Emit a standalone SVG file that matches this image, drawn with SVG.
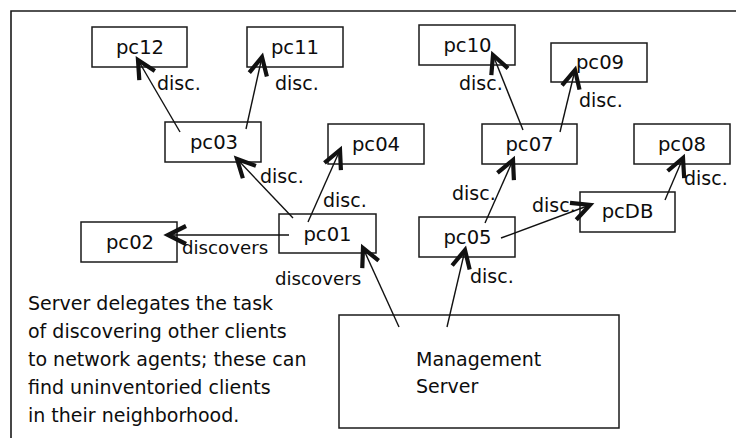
<svg xmlns="http://www.w3.org/2000/svg" width="736" height="438" viewBox="0 0 736 438">
  <style>
    .box { fill: #fff; stroke: #1a1a1a; stroke-width: 1.5; }
    .lbl { font-family: "DejaVu Sans", Verdana, sans-serif; font-size: 19px; fill: #0d0d0d; }
    .mid { text-anchor: middle; font-size: 19.6px; }
    .edge { stroke: #111; stroke-width: 1.4; fill: none; marker-end: url(#arr); }
    .frame { stroke: #1a1a1a; stroke-width: 1.6; fill: none; }
  </style>
  <defs>
    <marker id="arr" markerUnits="userSpaceOnUse" markerWidth="24" markerHeight="24" viewBox="-14 -8 16 16" refX="0" refY="0" orient="auto" overflow="visible">
      <path d="M-12,-6 L0,0 L-12,6" fill="none" stroke="#111" stroke-width="2.8"/>
    </marker>
  </defs>

  <rect width="736" height="438" fill="#fff"/>
  <!-- open frame: top and left edges -->
  <path class="frame" d="M736,11 H11 V438"/>

  <g id="pc12"><rect class="box" x="92" y="27" width="95" height="40"/><text class="lbl mid" x="140" y="54">pc12</text></g>
  <g id="pc11"><rect class="box" x="247" y="27" width="96" height="40"/><text class="lbl mid" x="295" y="54">pc11</text></g>
  <g id="pc03"><rect class="box" x="165" y="122" width="96" height="40"/><text class="lbl mid" x="214" y="149">pc03</text></g>
  <g id="pc04"><rect class="box" x="328" y="124" width="96" height="40"/><text class="lbl mid" x="376" y="151">pc04</text></g>
  <g id="pc10"><rect class="box" x="419" y="25" width="96" height="40"/><text class="lbl mid" x="467.5" y="52">pc10</text></g>
  <g id="pc09"><rect class="box" x="551" y="43" width="96" height="39"/><text class="lbl mid" x="600" y="69">pc09</text></g>
  <g id="pc07"><rect class="box" x="482" y="124" width="95" height="40"/><text class="lbl mid" x="529.5" y="151">pc07</text></g>
  <g id="pc08"><rect class="box" x="634" y="124" width="96" height="40"/><text class="lbl mid" x="682" y="151">pc08</text></g>
  <g id="pcDB"><rect class="box" x="580" y="192" width="95" height="40"/><text class="lbl mid" x="627.5" y="218">pcDB</text></g>
  <g id="pc05"><rect class="box" x="419" y="217" width="96" height="40"/><text class="lbl mid" x="467.5" y="244">pc05</text></g>
  <g id="pc02"><rect class="box" x="81" y="222" width="96" height="40"/><text class="lbl mid" x="130" y="249">pc02</text></g>
  <g id="pc01"><rect class="box" x="279" y="214" width="97" height="39"/><text class="lbl mid" x="327.5" y="241">pc01</text></g>
  <g id="server"><rect class="box" x="339" y="315" width="280" height="113"/>
    <text class="lbl" x="416" y="366">Management</text>
    <text class="lbl" x="416" y="393">Server</text>
  </g>

  <g id="connectors">
    <line class="edge" x1="180" y1="132" x2="138" y2="60"/>
    <line class="edge" x1="246" y1="129" x2="262" y2="57"/>
    <line class="edge" x1="293" y1="218" x2="237" y2="159"/>
    <line class="edge" x1="308" y1="222" x2="340" y2="150"/>
    <line class="edge" x1="289" y1="235" x2="168" y2="235"/>
    <line class="edge" x1="399" y1="327" x2="363" y2="248"/>
    <line class="edge" x1="447" y1="327" x2="465" y2="250"/>
    <line class="edge" x1="485" y1="223" x2="513" y2="160"/>
    <line class="edge" x1="501" y1="238" x2="590" y2="205"/>
    <line class="edge" x1="523" y1="130" x2="493" y2="55"/>
    <line class="edge" x1="560" y1="132" x2="575" y2="70"/>
    <line class="edge" x1="665" y1="200" x2="683" y2="158"/>

    <text class="lbl" x="157" y="90">disc.</text>
    <text class="lbl" x="275" y="90">disc.</text>
    <text class="lbl" x="260" y="183">disc.</text>
    <text class="lbl" x="323" y="207">disc.</text>
    <text class="lbl" x="459" y="90">disc.</text>
    <text class="lbl" x="579" y="107">disc.</text>
    <text class="lbl" x="452" y="200">disc.</text>
    <text class="lbl" x="532" y="212">disc.</text>
    <text class="lbl" x="684" y="185">disc.</text>
    <text class="lbl" x="470" y="283">disc.</text>
    <text class="lbl" x="182" y="254" style="font-size:18.2px">discovers</text>
    <text class="lbl" x="275" y="285" style="font-size:18.2px">discovers</text>
  </g>

  <g id="note" class="lbl">
    <text x="28" y="310">Server delegates the task</text>
    <text x="28" y="338">of discovering other clients</text>
    <text x="28" y="366">to network agents; these can</text>
    <text x="28" y="394">find uninventoried clients</text>
    <text x="28" y="422">in their neighborhood.</text>
  </g>
</svg>
